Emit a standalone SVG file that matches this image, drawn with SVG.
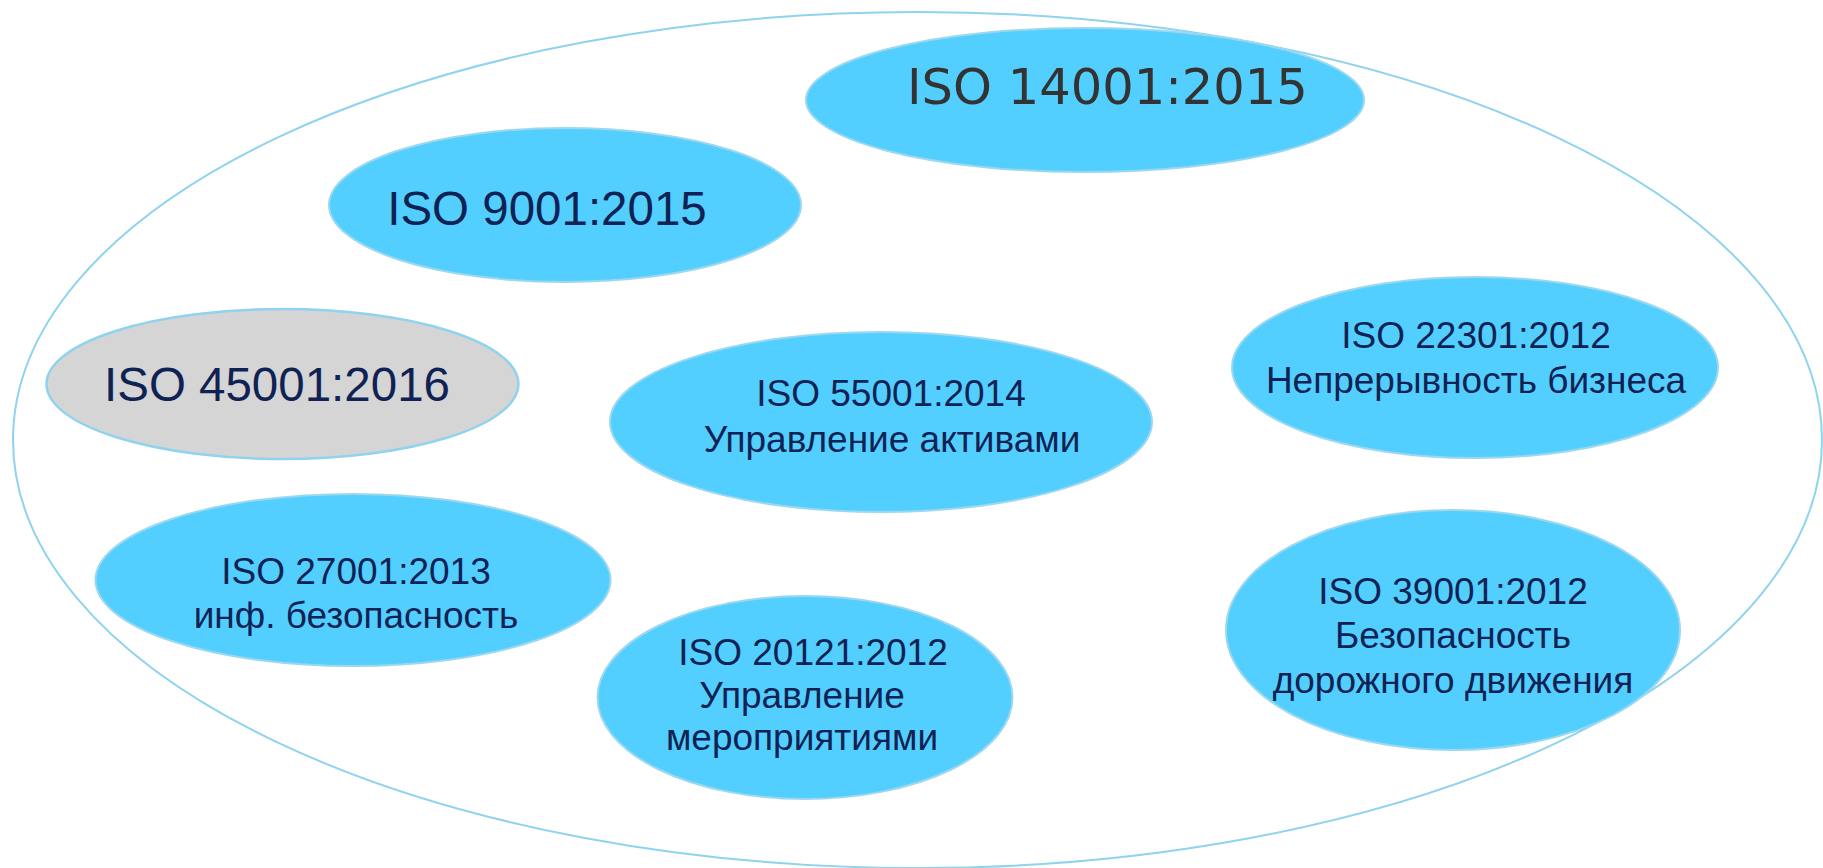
<svg xmlns="http://www.w3.org/2000/svg" width="1823" height="868" viewBox="0 0 1823 868">
<style>
.node{fill:#52cffe;stroke:#9bd8f0;stroke-width:2}
.grey{fill:#d5d5d5;stroke:#8fd3ee;stroke-width:2.5}
.outer{fill:none;stroke:#8fd3ee;stroke-width:2}
.t{font-family:"Liberation Sans",Arial,sans-serif;fill:#0f2253;text-anchor:middle}
.big{font-size:47.5px}
.sm{font-size:37px}
.v{font-family:"DejaVu Sans",Verdana,sans-serif;font-size:49.5px;fill:#333333}
</style>
<rect width="1823" height="868" fill="#ffffff"/>
<g id="container">
<ellipse class="outer" cx="917.5" cy="440" rx="904.5" ry="428"/>
</g>
<g id="iso14001">
<ellipse class="node" cx="1085" cy="100" rx="279" ry="72"/>
<text class="v" x="907" y="104">ISO 14001:2015</text>
</g>
<g id="iso9001">
<ellipse class="node" cx="565" cy="205" rx="236" ry="77"/>
<text class="t big" x="547" y="225">ISO 9001:2015</text>
</g>
<g id="iso45001">
<ellipse class="grey" cx="282.5" cy="384" rx="236" ry="75"/>
<text class="t big" x="277" y="401">ISO 45001:2016</text>
</g>
<g id="iso55001">
<ellipse class="node" cx="881" cy="422" rx="271" ry="90"/>
<text class="t sm" x="891" y="406">ISO 55001:2014</text>
<text class="t sm" x="892" y="452">Управление активами</text>
</g>
<g id="iso22301">
<ellipse class="node" cx="1475" cy="367.5" rx="243" ry="90.5"/>
<text class="t sm" x="1476" y="348">ISO 22301:2012</text>
<text class="t sm" x="1476" y="393">Непрерывность бизнеса</text>
</g>
<g id="iso27001">
<ellipse class="node" cx="353" cy="580" rx="257.5" ry="86"/>
<text class="t sm" x="356" y="584">ISO 27001:2013</text>
<text class="t sm" x="356" y="628">инф. безопасность</text>
</g>
<g id="iso20121">
<ellipse class="node" cx="805" cy="697.5" rx="207.5" ry="101.5"/>
<text class="t sm" x="813" y="665">ISO 20121:2012</text>
<text class="t sm" x="802" y="708">Управление</text>
<text class="t sm" x="802" y="750">мероприятиями</text>
</g>
<g id="iso39001">
<ellipse class="node" cx="1453" cy="630" rx="227" ry="120"/>
<text class="t sm" x="1453" y="604">ISO 39001:2012</text>
<text class="t sm" x="1453" y="648">Безопасность</text>
<text class="t sm" x="1453" y="693">дорожного движения</text>
</g>
<g id="connectors"></g>
</svg>
